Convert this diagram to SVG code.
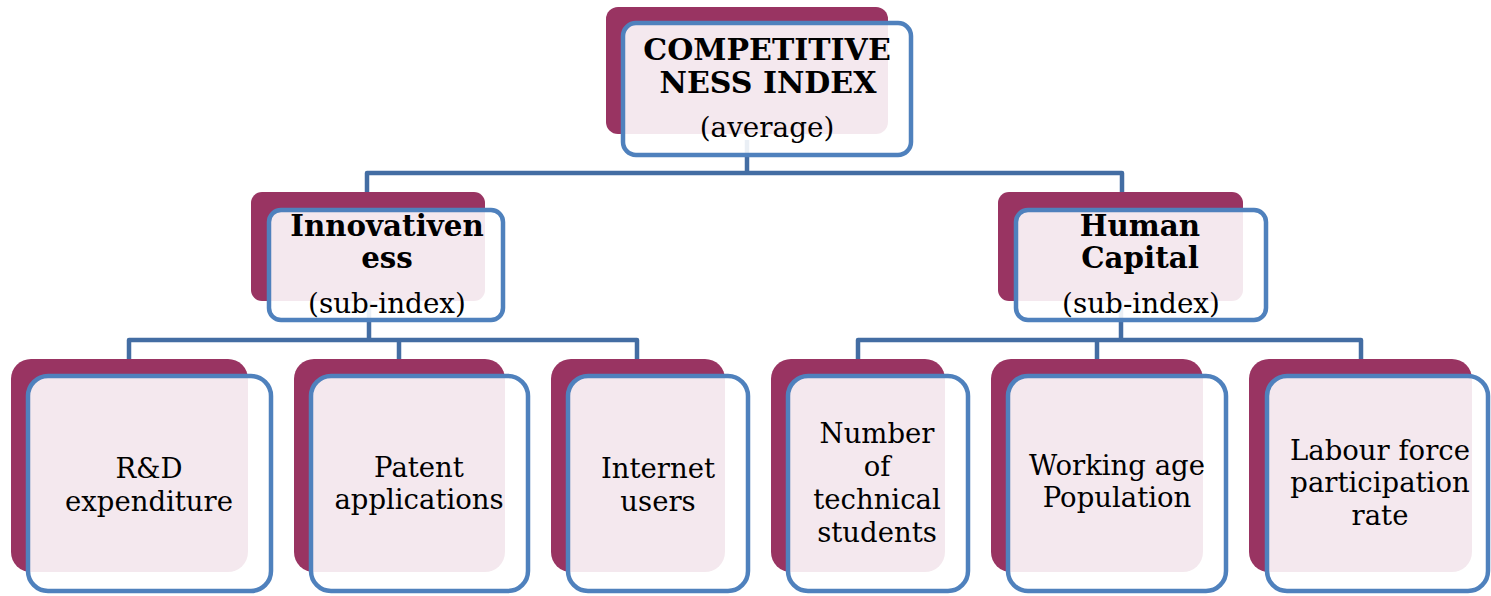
<svg xmlns="http://www.w3.org/2000/svg" width="1491" height="596" viewBox="0 0 1491 596">
  <style>
    .back { fill: #993462; }
    .front { fill: #ffffff; fill-opacity: 0.89; stroke: #4F81BD; stroke-width: 4.5; }
    .link { fill: none; stroke: #436DA3; stroke-width: 4.5; stroke-linejoin: round; }
    text { font-family: "DejaVu Serif", "Liberation Serif", serif; fill: #000; text-anchor: middle; }
    .title { font-weight: bold; font-size: 30px; }
    .sub { font-weight: bold; font-size: 29.3px; }
    .note { font-size: 27.8px; }
    .leaf { font-size: 27.5px; }
  </style>

  <rect width="1491" height="596" fill="#ffffff"/>

  <!-- connectors (drawn beneath the nodes) -->
  <g id="connectors">
    <path class="link" d="M747 140 V173 M367 192 V173 H1122 V192"/>
    <path class="link" d="M369 300 V340 M129 359 V340 H637 V359 M399 340 V359"/>
    <path class="link" d="M1121 300 V340 M858 359 V340 H1361 V359 M1097 340 V359"/>
  </g>

  <!-- root -->
  <g id="node-competitiveness">
    <rect class="back" x="606" y="7" width="282" height="127" rx="12"/>
    <rect class="front" x="623" y="23" width="288" height="132" rx="13"/>
    <text class="title" x="767" y="60">COMPETITIVE</text>
    <text class="title" x="768" y="93">NESS INDEX</text>
    <text class="note" x="767" y="137">(average)</text>
  </g>

  <!-- sub-indices -->
  <g id="node-innovativeness">
    <rect class="back" x="251" y="192" width="234" height="109" rx="11"/>
    <rect class="front" x="269" y="210" width="234" height="110" rx="12"/>
    <text class="sub" x="387" y="236">Innovativen</text>
    <text class="sub" x="387" y="268">ess</text>
    <text class="note" x="387" y="313">(sub-index)</text>
  </g>

  <g id="node-human-capital">
    <rect class="back" x="998" y="192" width="245" height="109" rx="11"/>
    <rect class="front" x="1016" y="210" width="250" height="110" rx="12"/>
    <text class="sub" x="1140" y="236">Human</text>
    <text class="sub" x="1140" y="268">Capital</text>
    <text class="note" x="1141" y="313">(sub-index)</text>
  </g>

  <!-- indicators -->
  <g id="node-rd">
    <rect class="back" x="11" y="359" width="237" height="213" rx="20"/>
    <rect class="front" x="28" y="376" width="243" height="215" rx="20"/>
    <text class="leaf" x="149" y="478">R&amp;D</text>
    <text class="leaf" x="149" y="511">expenditure</text>
  </g>

  <g id="node-patent">
    <rect class="back" x="294" y="359" width="211" height="213" rx="20"/>
    <rect class="front" x="311" y="376" width="217" height="215" rx="20"/>
    <text class="leaf" x="419" y="477">Patent</text>
    <text class="leaf" x="419" y="509">applications</text>
  </g>

  <g id="node-internet">
    <rect class="back" x="551" y="359" width="174" height="213" rx="20"/>
    <rect class="front" x="568" y="376" width="180" height="215" rx="20"/>
    <text class="leaf" x="658" y="478">Internet</text>
    <text class="leaf" x="658" y="511">users</text>
  </g>

  <g id="node-students">
    <rect class="back" x="771" y="359" width="174" height="213" rx="20"/>
    <rect class="front" x="788" y="376" width="180" height="215" rx="20"/>
    <text class="leaf" x="877" y="443">Number</text>
    <text class="leaf" x="877" y="476">of</text>
    <text class="leaf" x="877" y="509">technical</text>
    <text class="leaf" x="877" y="542">students</text>
  </g>

  <g id="node-working-age">
    <rect class="back" x="991" y="359" width="212" height="213" rx="20"/>
    <rect class="front" x="1008" y="376" width="218" height="215" rx="20"/>
    <text class="leaf" x="1117" y="475">Working age</text>
    <text class="leaf" x="1117" y="507">Population</text>
  </g>

  <g id="node-labour-force">
    <rect class="back" x="1249" y="359" width="223" height="213" rx="20"/>
    <rect class="front" x="1267" y="376" width="221" height="215" rx="20"/>
    <text class="leaf" x="1380" y="460">Labour force</text>
    <text class="leaf" x="1380" y="492">participation</text>
    <text class="leaf" x="1380" y="525">rate</text>
  </g>
</svg>
